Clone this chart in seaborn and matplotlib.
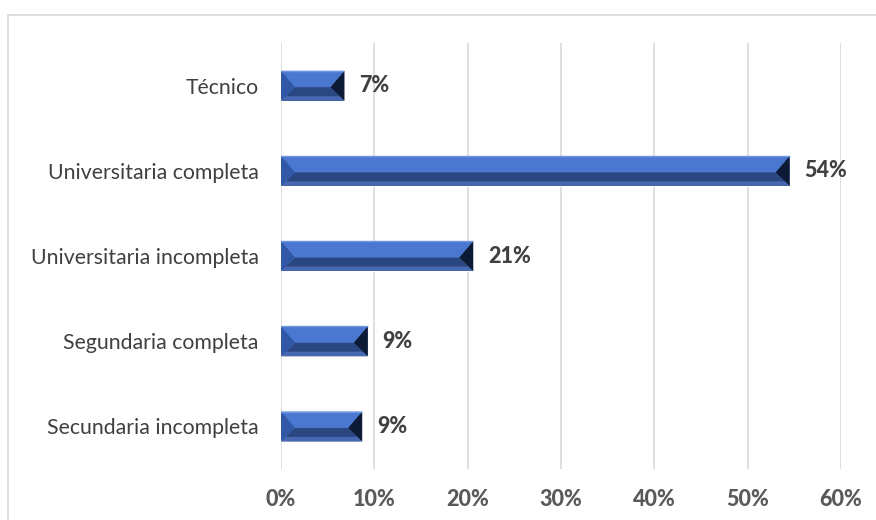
import matplotlib
matplotlib.use("Agg")
import matplotlib.pyplot as plt
import seaborn as sns
import pandas as pd
from matplotlib.patches import Polygon, Rectangle

# data (percent)
categorias = ["Técnico", "Universitaria completa", "Universitaria incompleta",
              "Segundaria completa", "Secundaria incompleta"]
valores = [6.8, 54.5, 20.6, 9.3, 8.7]
etiquetas = ["7%", "54%", "21%", "9%", "9%"]
ticks_x = [0, 10, 20, 30, 40, 50, 60]

df = pd.DataFrame({"nivel": categorias, "pct": valores})

sns.set_theme(style="white")
plt.rcParams["font.family"] = ["Lato", "DejaVu Sans"]

fig, ax = plt.subplots(figsize=(8.76, 5.2), dpi=100)
fig.subplots_adjust(left=0.3208, right=0.960, top=0.917, bottom=0.098)

sns.barplot(data=df, y="nivel", x="pct", color="#3f6cc4", width=0.35,
            orient="h", ax=ax, zorder=2)

# fake bevel on every bar
dx = 1.5
for p in ax.patches:
    x0, w = p.get_x(), p.get_width()
    top, h = p.get_y(), p.get_height()
    bot = top + h
    mid = top + h * 0.55
    x1 = x0 + w
    polys = [
        ([(x0, top), (x1, top), (x1 - dx, mid), (x0 + dx, mid)], "#4a78d0"),
        ([(x0 + dx, mid), (x1 - dx, mid), (x1, bot), (x0, bot)], "#2b4782"),
        ([(x0 + dx * 0.3, bot - h * 0.15), (x1 - dx * 0.3, bot - h * 0.15), (x1, bot), (x0, bot)], "#4767b0"),
        ([(x0, top), (x0 + dx, mid), (x0, bot)], "#3158a6"),
        ([(x1, top), (x1 - dx, mid), (x1, bot)], "#0d1a36"),
    ]
    for pts, c in polys:
        ax.add_patch(Polygon(pts, closed=True, facecolor=c, edgecolor="none", zorder=3))
    ax.add_patch(Polygon([(x0, top), (x1, top)], closed=False, edgecolor="#6f95e0",
                         linewidth=1, fill=False, zorder=4))

for i, (v, t) in enumerate(zip(valores, etiquetas)):
    ax.text(v + 1.6, i, t, va="center", ha="left", fontsize=15.5,
            fontweight=900, color="#404040")

ax.set_xlim(0, 60)
ax.set_ylim(4.5, -0.5)
ax.set_xticks(ticks_x)
ax.set_xticklabels([f"{t}%" for t in ticks_x], fontsize=15.5,
                   fontweight=900, color="#595959")
ax.tick_params(axis="x", length=0, pad=14.5)
ax.tick_params(axis="y", length=0, pad=16, labelsize=15.3, labelcolor="#404040")
ax.set_xlabel("")
ax.set_ylabel("")
ax.grid(axis="x", color="#d9d9d9", linewidth=1.2, zorder=0)
ax.set_axisbelow(True)
for s in ax.spines.values():
    s.set_visible(False)

# chart frame
fig.patches.append(Rectangle((8 / 876, -0.01), 1.0, 1 - 15 / 520 + 0.01,
                             transform=fig.transFigure, fill=False,
                             edgecolor="#d9d9d9", linewidth=1.2))

fig.savefig("out.png", dpi=100)
